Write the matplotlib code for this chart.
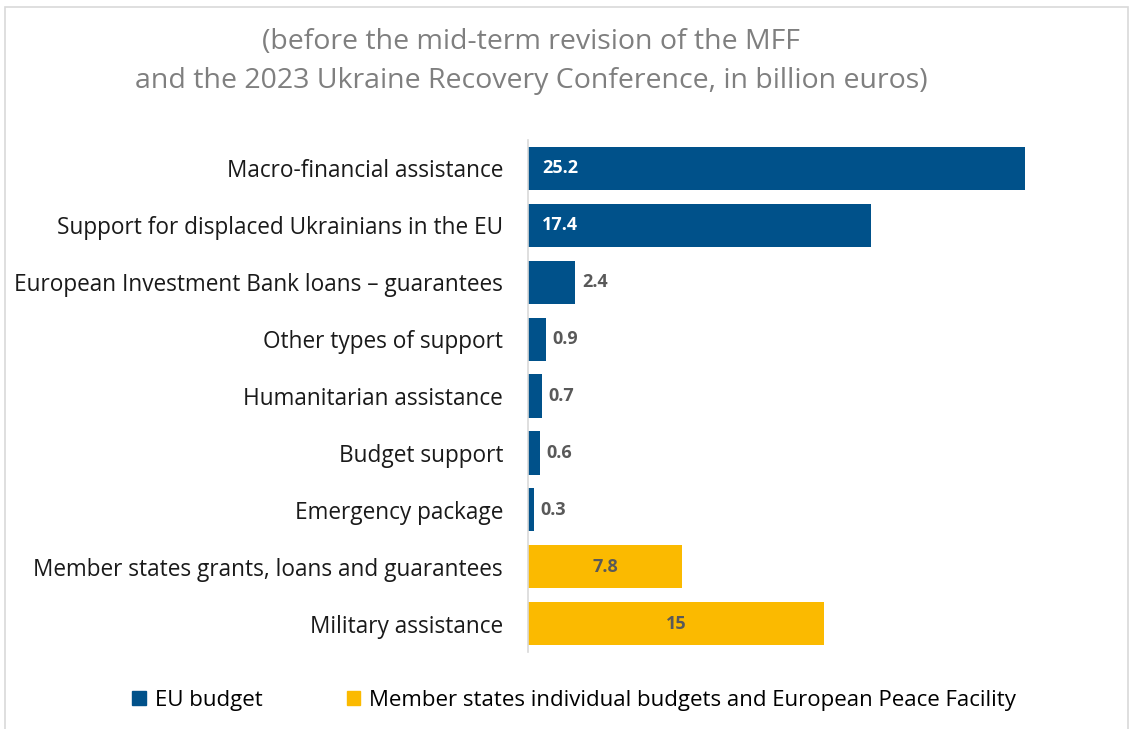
import matplotlib.pyplot as plt
from matplotlib.patches import Rectangle, Patch

categories = ['Macro-financial assistance',
              'Support for displaced Ukrainians in the EU',
              'European Investment Bank loans \u2013 guarantees',
              'Other types of support',
              'Humanitarian assistance',
              'Budget support',
              'Emergency package',
              'Member states grants, loans and guarantees',
              'Military assistance']
values = [25.2, 17.4, 2.4, 0.9, 0.7, 0.6, 0.3, 7.8, 15]
labels = ['25.2', '17.4', '2.4', '0.9', '0.7', '0.6', '0.3', '7.8', '15']
groups = ['EU budget'] * 7 + ['Member states individual budgets and European Peace Facility'] * 2

colour_map = {'EU budget': '#00518A',
              'Member states individual budgets and European Peace Facility': '#FBBA00'}
text_grey = '#595959'

plt.rcParams['font.family'] = ['Open Sans', 'DejaVu Sans']

fig = plt.figure(figsize=(11.3, 7.29), dpi=100)
ax = fig.add_axes([0.4673, 0.1056, 0.4885, 0.7023])

y = list(range(len(categories)))
bars = ax.barh(y, values, height=0.76, color=[colour_map[g] for g in groups])
ax.set_ylim(len(categories) - 0.5, -0.5)
ax.set_xlim(0, 28)

for bar, v, lab, g in zip(bars, values, labels, groups):
    yc = bar.get_y() + bar.get_height() / 2
    if g != 'EU budget':
        ax.text(v / 2, yc, lab, ha='center', va='center', color=text_grey,
                fontsize=13, fontweight='bold')
    elif v > 10:
        ax.text(0.7, yc, lab, ha='left', va='center', color='white',
                fontsize=13, fontweight='bold')
    else:
        ax.text(v + 0.35, yc, lab, ha='left', va='center', color=text_grey,
                fontsize=13, fontweight='bold')

ax.set_yticks(y)
ax.set_yticklabels(categories, fontsize=16.3, color='#1a1a1a')
ax.tick_params(axis='y', length=0, pad=18)
ax.set_xticks([])
for s in ['top', 'right', 'bottom']:
    ax.spines[s].set_visible(False)
ax.spines['left'].set_color('#d9d9d9')
ax.spines['left'].set_linewidth(1.2)

fig.text(0.47, 0.942, '(before the mid-term revision of the MFF', ha='center', va='center',
         fontsize=20.5, color='#7f7f7f')
fig.text(0.47, 0.889, 'and the 2023 Ukraine Recovery Conference, in billion euros)', ha='center',
         va='center', fontsize=20.5, color='#7f7f7f')

# outer chart border
fig.patches.append(Rectangle((0.004, -0.05), 0.994, 1.04, transform=fig.transFigure,
                             fill=False, edgecolor='#d9d9d9', linewidth=1.2))

handles = [Patch(color=colour_map[g]) for g in dict.fromkeys(groups)]
fig.legend(handles, list(dict.fromkeys(groups)), loc='center', bbox_to_anchor=(0.508, 0.039),
           ncol=2, frameon=False, fontsize=16, handlelength=0.6, handleheight=0.6,
           handletextpad=0.4, columnspacing=3.8)

fig.savefig('out.png', dpi=100)
